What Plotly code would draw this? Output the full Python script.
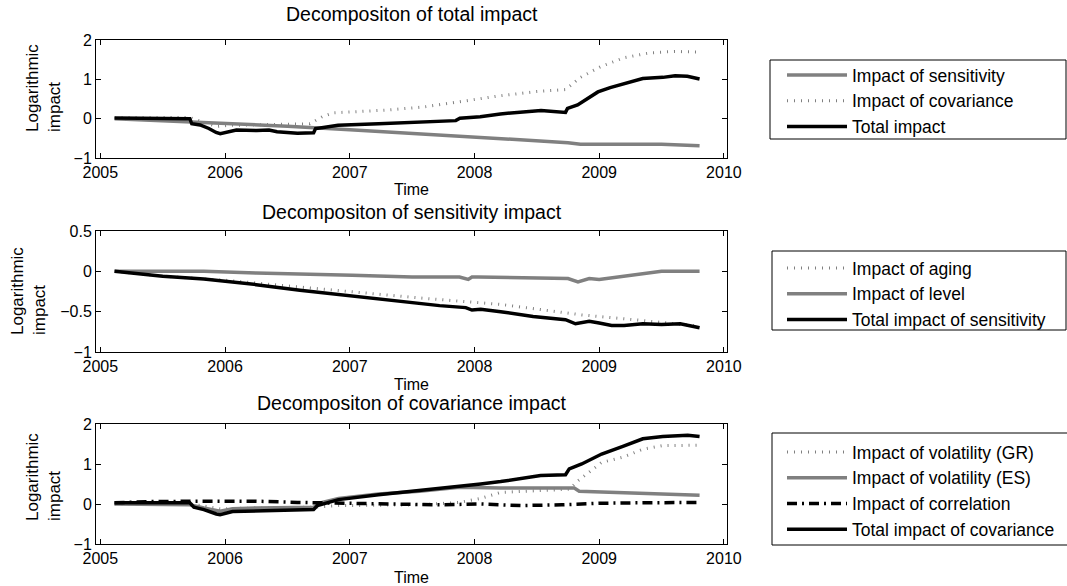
import plotly.graph_objects as go

W, H = 1067, 586
FONT = "Liberation Sans, Arial, Helvetica, sans-serif"
GRAY = "#808080"

# ---------------- Panel 1: Decomposition of total impact ----------------
t_sens = [2005.114, 2005.5, 2006.0, 2006.5, 2007.0, 2007.5, 2008.0, 2008.5, 2008.75, 2008.85,
          2009.0, 2009.25, 2009.5, 2009.805]
v_sens = [0.0, -0.05, -0.11, -0.19, -0.28, -0.37, -0.46, -0.55, -0.61, -0.65,
          -0.65, -0.66, -0.65, -0.69]

t_cov = [2005.114, 2005.5, 2005.717, 2005.80, 2005.93, 2006.03, 2006.25, 2006.5, 2006.68, 2006.78,
         2006.87, 2007.0, 2007.3, 2007.6, 2007.9, 2008.2, 2008.5, 2008.73, 2008.85, 2009.01,
         2009.2, 2009.4, 2009.6, 2009.805]
v_cov = [0.02, 0.03, 0.03, -0.06, -0.2, -0.17, -0.15, -0.14, -0.13, 0.05,
         0.15, 0.17, 0.22, 0.3, 0.44, 0.58, 0.69, 0.74, 1.05, 1.32,
         1.55, 1.67, 1.71, 1.69]

t_total = [2005.114, 2005.30, 2005.50, 2005.717, 2005.733, 2005.80, 2005.87, 2005.928, 2005.961, 2006.026,
           2006.091, 2006.254, 2006.352, 2006.417, 2006.58, 2006.71, 2006.726, 2006.775, 2006.906, 2007.231,
           2007.557, 2007.72, 2007.85, 2007.883, 2008.046, 2008.208, 2008.37, 2008.534, 2008.73, 2008.746,
           2008.827, 2008.893, 2008.99, 2009.088, 2009.186, 2009.349, 2009.511, 2009.609, 2009.707, 2009.805]
v_total = [0.02, 0.02, 0.01, 0.0, -0.13, -0.16, -0.25, -0.35, -0.38, -0.34,
           -0.29, -0.30, -0.29, -0.33, -0.37, -0.36, -0.25, -0.23, -0.17, -0.13,
           -0.08, -0.07, -0.05, 0.01, 0.05, 0.12, 0.17, 0.21, 0.16, 0.26,
           0.35, 0.48, 0.68, 0.79, 0.88, 1.02, 1.05, 1.09, 1.08, 1.01]

# ---------------- Panel 2: Decomposition of sensitivity impact ----------------
t_aging = [2005.114, 2005.5, 2006.0, 2006.25, 2007.02, 2007.56, 2008.21, 2008.86, 2009.35, 2009.805]
v_aging = [0.0, -0.06, -0.11, -0.145, -0.25, -0.33, -0.41, -0.54, -0.61, -0.68]

t_level = [2005.114, 2005.5, 2005.83, 2006.25, 2006.6, 2007.02, 2007.5, 2007.88, 2007.95, 2007.98,
           2008.03, 2008.5, 2008.75, 2008.83, 2008.92, 2009.0, 2009.1, 2009.2, 2009.35, 2009.5,
           2009.65, 2009.805]
v_level = [0.0, 0.0, 0.0, -0.02, -0.03, -0.05, -0.07, -0.07, -0.1, -0.07,
           -0.07, -0.09, -0.09, -0.13, -0.09, -0.1, -0.08, -0.07, -0.03, 0.0,
           0.0, 0.0]

t_tsens = [2005.114, 2005.5, 2005.83, 2006.25, 2006.6, 2007.02, 2007.49, 2007.72, 2007.93, 2007.98,
           2008.05, 2008.21, 2008.47, 2008.73, 2008.81, 2008.92, 2009.0, 2009.1, 2009.2, 2009.35,
           2009.5, 2009.65, 2009.805]
v_tsens = [0.0, -0.06, -0.095, -0.165, -0.235, -0.31, -0.385, -0.425, -0.45, -0.48,
           -0.47, -0.5, -0.56, -0.60, -0.65, -0.62, -0.64, -0.67, -0.67, -0.65,
           -0.66, -0.65, -0.70]

# ---------------- Panel 3: Decomposition of covariance impact ----------------
t_volgr = [2005.114, 2005.717, 2005.83, 2005.96, 2006.25, 2006.71, 2006.91, 2007.56, 2007.88, 2008.05,
           2008.21, 2008.53, 2008.76, 2008.83, 2009.02, 2009.19, 2009.35, 2009.51, 2009.805]
v_volgr = [0.0, 0.0, -0.05, -0.12, -0.1, -0.08, -0.04, -0.02, 0.04, 0.14,
           0.29, 0.33, 0.37, 0.58, 1.04, 1.17, 1.37, 1.46, 1.47]

t_voles = [2005.114, 2005.5, 2005.717, 2005.83, 2005.96, 2006.06, 2006.25, 2006.71, 2006.78, 2006.91,
           2007.23, 2007.56, 2007.88, 2008.21, 2008.53, 2008.80, 2008.84, 2009.19, 2009.51, 2009.805]
v_voles = [0.0, -0.02, -0.02, -0.1, -0.18, -0.12, -0.1, -0.08, 0.04, 0.14,
           0.25, 0.32, 0.42, 0.40, 0.41, 0.40, 0.32, 0.29, 0.25, 0.22]

t_corr = [2005.114, 2005.4, 2005.8, 2006.25, 2006.58, 2006.91, 2007.23, 2007.72, 2008.05, 2008.37,
          2008.7, 2009.02, 2009.35, 2009.805]
v_corr = [0.03, 0.06, 0.07, 0.07, 0.04, 0.02, 0.0, -0.02, 0.0, -0.04,
          -0.02, 0.02, 0.03, 0.04]

t_tcov = [2005.114, 2005.5, 2005.717, 2005.75, 2005.83, 2005.93, 2005.96, 2006.06, 2006.25, 2006.42,
          2006.71, 2006.74, 2006.91, 2007.23, 2007.56, 2007.85, 2008.05, 2008.21, 2008.37, 2008.53,
          2008.73, 2008.76, 2008.86, 2009.02, 2009.19, 2009.35, 2009.51, 2009.71, 2009.805]
v_tcov = [0.03, 0.04, 0.03, -0.08, -0.14, -0.25, -0.27, -0.19, -0.17, -0.15,
          -0.14, -0.04, 0.11, 0.23, 0.33, 0.42, 0.5, 0.56, 0.64, 0.71,
          0.73, 0.88, 1.0, 1.25, 1.44, 1.63, 1.69, 1.72, 1.69]

titles = ["Decompositon of total impact", "Decompositon of sensitivity impact",
          "Decompositon of covariance impact"]
year_ticks = [2005, 2006, 2007, 2008, 2009, 2010]
y_ticks = [[-1, 0, 1, 2], [-1, -0.5, 0, 0.5], [-1, 0, 1, 2]]
y_ranges = [[-1, 2], [-1, 0.5], [-1, 2]]

# ---------------- styles ----------------
SOLID_GRAY = dict(color=GRAY, width=3.5)
SOLID_BLACK = dict(color="black", width=3.5)
DOTTED = dict(color=GRAY, width=3, dash="1px,6px")
DASHDOT = dict(color="black", width=3.5, dash="10px,5px,2px,5px")

fig = go.Figure()

def add(x, y, name, line, ax, leg):
    fig.add_trace(go.Scatter(x=x, y=y, name=name, mode="lines", line=line,
                             xaxis="x" + ax, yaxis="y" + ax, legend=leg, hoverinfo="skip"))

add(t_sens, v_sens, "Impact of sensitivity", SOLID_GRAY, "", "legend")
add(t_cov, v_cov, "Impact of covariance", DOTTED, "", "legend")
add(t_total, v_total, "Total impact", SOLID_BLACK, "", "legend")

add(t_aging, v_aging, "Impact of aging", DOTTED, "2", "legend2")
add(t_level, v_level, "Impact of level", SOLID_GRAY, "2", "legend2")
add(t_tsens, v_tsens, "Total impact of sensitivity", SOLID_BLACK, "2", "legend2")

add(t_volgr, v_volgr, "Impact of volatility (GR)", DOTTED, "3", "legend3")
add(t_voles, v_voles, "Impact of volatility (ES)", SOLID_GRAY, "3", "legend3")
add(t_corr, v_corr, "Impact of correlation", DASHDOT, "3", "legend3")
add(t_tcov, v_tcov, "Total impact of covariance", SOLID_BLACK, "3", "legend3")

# ---------------- layout ----------------
plot_left, plot_right = 96, 727
panels = [(40, 158), (231, 352), (424, 544)]
xdom = [plot_left / W, plot_right / W]

axis_common = dict(showline=True, linecolor="black", linewidth=1, mirror="ticks",
                   ticks="inside", ticklen=5, tickcolor="black", showgrid=False,
                   zeroline=False, automargin=False, fixedrange=True,
                   tickfont=dict(family=FONT, size=16, color="black"))

layout = {}
for i, (top, bot) in enumerate(panels):
    s = "" if i == 0 else str(i + 1)
    layout["xaxis" + s] = dict(axis_common, domain=xdom, anchor="y" + s,
                               range=[2004.965, 2010.025], tickvals=year_ticks,
                               ticktext=[str(v) for v in year_ticks])
    layout["yaxis" + s] = dict(axis_common, domain=[1 - bot / H, 1 - top / H], anchor="x" + s,
                               range=y_ranges[i], tickvals=y_ticks[i])

legend_common = dict(bgcolor="rgba(0,0,0,0)", borderwidth=0, itemwidth=60,
                     font=dict(family=FONT, size=17.5, color="black"),
                     xanchor="left", yanchor="top", tracegroupgap=0,
                     itemclick=False, itemdoubleclick=False)
layout["legend"] = dict(legend_common, x=782 / W, y=1 - 57 / H)
layout["legend2"] = dict(legend_common, x=782 / W, y=1 - 250 / H)
layout["legend3"] = dict(legend_common, x=782 / W, y=1 - 434 / H)

shapes = []
for (x0, y0, x1, y1) in [(770, 60, 1066, 139), (772, 251, 1066, 330), (772, 433, 1075, 545)]:
    shapes.append(dict(type="rect", xref="paper", yref="paper",
                       x0=x0 / W, x1=x1 / W, y0=1 - y1 / H, y1=1 - y0 / H,
                       line=dict(color="black", width=1), fillcolor="rgba(0,0,0,0)"))

annotations = []
title_y = [14, 212, 403]
time_y = [189, 384, 577]
ylab_x = [43, 29, 43]
ylab_y = [88, 291, 477]
cx = (plot_left + plot_right) / 2
for i, (top, bot) in enumerate(panels):
    annotations.append(dict(text=titles[i], x=cx / W, y=1 - title_y[i] / H, xref="paper", yref="paper",
                            xanchor="center", yanchor="middle", showarrow=False,
                            font=dict(family=FONT, size=19.5, color="black")))
    annotations.append(dict(text="Time", x=cx / W, y=1 - time_y[i] / H, xref="paper", yref="paper",
                            xanchor="center", yanchor="middle", showarrow=False,
                            font=dict(family=FONT, size=16, color="black")))
    annotations.append(dict(text="Logarithmic<br>impact", x=ylab_x[i] / W, y=1 - ylab_y[i] / H,
                            xref="paper", yref="paper", xanchor="center", yanchor="middle",
                            textangle=-90, align="left", showarrow=False,
                            font=dict(family=FONT, size=17, color="black")))

fig.update_layout(template="none", width=W, height=H, margin=dict(l=0, r=0, t=0, b=0, pad=0),
                  paper_bgcolor="white", plot_bgcolor="white", hovermode=False,
                  font=dict(family=FONT, color="black"),
                  shapes=shapes, annotations=annotations, **layout)

fig.write_html("out.html", config={"displayModeBar": False, "staticPlot": True},
               post_script="document.body.style.margin='0px';document.body.style.overflow='hidden';")
